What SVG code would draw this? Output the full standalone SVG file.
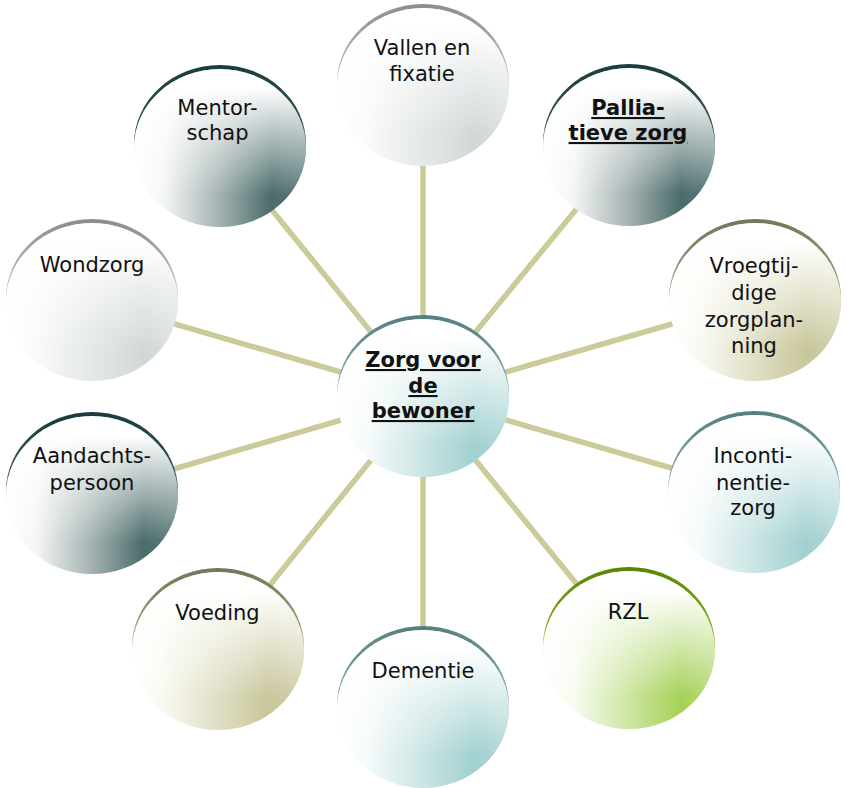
<svg xmlns="http://www.w3.org/2000/svg" width="847" height="788" viewBox="0 0 847 788">
<style>
.conn{stroke:#cbcb99;stroke-width:5.5;stroke-linecap:butt;fill:none}
.ov{fill:url(#ovl)}
.t{font-family:"DejaVu Sans","Verdana",sans-serif;font-size:21px;fill:#111;text-anchor:middle}
.b{font-weight:bold;text-decoration:underline}
</style>
<defs>
<linearGradient id="ovl" x1="0" y1="0" x2="0" y2="1">
<stop offset="0" stop-color="#fff" stop-opacity="1"/>
<stop offset="0.12" stop-color="#fff" stop-opacity="1"/>
<stop offset="0.8" stop-color="#fff" stop-opacity="0"/>
</linearGradient>
<linearGradient id="fDark" x1="0" y1="0" x2="1" y2="0">
<stop offset="0" stop-color="#ffffff"/><stop offset="0.18" stop-color="#f4f5f5"/><stop offset="0.5" stop-color="#a3b2b1"/><stop offset="0.8" stop-color="#4a6c6b"/><stop offset="1" stop-color="#5a7a79"/>
</linearGradient>
<linearGradient id="fGray" x1="0" y1="0" x2="1" y2="0">
<stop offset="0" stop-color="#ffffff"/><stop offset="0.18" stop-color="#f9fafa"/><stop offset="0.8" stop-color="#d1d7d7"/><stop offset="1" stop-color="#dbe0e0"/>
</linearGradient>
<linearGradient id="fTeal" x1="0" y1="0" x2="1" y2="0">
<stop offset="0" stop-color="#ffffff"/><stop offset="0.18" stop-color="#f6fafa"/><stop offset="0.8" stop-color="#a1d0d0"/><stop offset="1" stop-color="#b0d7d7"/>
</linearGradient>
<linearGradient id="fKhaki" x1="0" y1="0" x2="1" y2="0">
<stop offset="0" stop-color="#ffffff"/><stop offset="0.18" stop-color="#f9f9f2"/><stop offset="0.8" stop-color="#c8c69a"/><stop offset="1" stop-color="#d1cfaa"/>
</linearGradient>
<linearGradient id="fGreen" x1="0" y1="0" x2="1" y2="0">
<stop offset="0" stop-color="#ffffff"/><stop offset="0.18" stop-color="#f7fbf0"/><stop offset="0.8" stop-color="#a6d158"/><stop offset="1" stop-color="#b5d974"/>
</linearGradient>
<linearGradient id="rDark" x1="0" y1="0" x2="0" y2="1">
<stop offset="0" stop-color="#1b3c3c"/><stop offset="0.5" stop-color="#3d5c5c"/>
</linearGradient>
<linearGradient id="rGray" x1="0" y1="0" x2="0" y2="1">
<stop offset="0" stop-color="#888d8d"/><stop offset="0.5" stop-color="#c4c8c8"/>
</linearGradient>
<linearGradient id="rTeal" x1="0" y1="0" x2="0" y2="1">
<stop offset="0" stop-color="#557f7f"/><stop offset="0.5" stop-color="#8fb3b3"/>
</linearGradient>
<linearGradient id="rKhaki" x1="0" y1="0" x2="0" y2="1">
<stop offset="0" stop-color="#77745a"/><stop offset="0.5" stop-color="#aaa882"/>
</linearGradient>
<linearGradient id="rGreen" x1="0" y1="0" x2="0" y2="1">
<stop offset="0" stop-color="#5a8500"/><stop offset="0.5" stop-color="#8ab52c"/>
</linearGradient>
</defs>

<g id="connectors">
<line class="conn" x1="423" y1="396" x2="423" y2="85"/>
<line class="conn" x1="423" y1="396" x2="629" y2="145"/>
<line class="conn" x1="423" y1="396" x2="755" y2="300"/>
<line class="conn" x1="423" y1="396" x2="754" y2="492"/>
<line class="conn" x1="423" y1="396" x2="629" y2="648"/>
<line class="conn" x1="423" y1="396" x2="423" y2="707"/>
<line class="conn" x1="423" y1="396" x2="218" y2="649"/>
<line class="conn" x1="423" y1="396" x2="92" y2="493"/>
<line class="conn" x1="423" y1="396" x2="92" y2="300"/>
<line class="conn" x1="423" y1="396" x2="220" y2="146"/>
</g>

<g id="node-center">
<ellipse cx="423" cy="394" rx="86" ry="79" fill="url(#rTeal)"/>
<ellipse cx="423" cy="398" rx="86" ry="79" fill="url(#fTeal)"/>
<ellipse cx="423" cy="398" rx="86" ry="79" class="ov"/>
<text class="t b" x="423" y="367">Zorg voor</text>
<text class="t b" x="423" y="393">de</text>
<text class="t b" x="423" y="418">bewoner</text>
</g>

<g id="node-vallen">
<ellipse cx="423" cy="83" rx="86" ry="79" fill="url(#rGray)"/>
<ellipse cx="423" cy="87" rx="86" ry="79" fill="url(#fGray)"/>
<ellipse cx="423" cy="87" rx="86" ry="79" class="ov"/>
<text class="t" x="422" y="55">Vallen en</text>
<text class="t" x="422" y="81">fixatie</text>
</g>

<g id="node-palliatieve">
<ellipse cx="629" cy="143" rx="86" ry="79" fill="url(#rDark)"/>
<ellipse cx="629" cy="147" rx="86" ry="79" fill="url(#fDark)"/>
<ellipse cx="629" cy="147" rx="86" ry="79" class="ov"/>
<text class="t b" x="628" y="115">Pallia-</text>
<text class="t b" x="628" y="140">tieve zorg</text>
</g>

<g id="node-vroegtijdige">
<ellipse cx="755" cy="298" rx="86" ry="79" fill="url(#rKhaki)"/>
<ellipse cx="755" cy="302" rx="86" ry="79" fill="url(#fKhaki)"/>
<ellipse cx="755" cy="302" rx="86" ry="79" class="ov"/>
<text class="t" x="754" y="273">Vroegtij-</text>
<text class="t" x="754" y="300">dige</text>
<text class="t" x="754" y="327">zorgplan-</text>
<text class="t" x="754" y="353">ning</text>
</g>

<g id="node-incontinentie">
<ellipse cx="754" cy="490" rx="86" ry="79" fill="url(#rTeal)"/>
<ellipse cx="754" cy="494" rx="86" ry="79" fill="url(#fTeal)"/>
<ellipse cx="754" cy="494" rx="86" ry="79" class="ov"/>
<text class="t" x="753" y="463">Inconti-</text>
<text class="t" x="753" y="490">nentie-</text>
<text class="t" x="753" y="515">zorg</text>
</g>

<g id="node-rzl">
<ellipse cx="629" cy="646" rx="86" ry="79" fill="url(#rGreen)"/>
<ellipse cx="629" cy="650" rx="86" ry="79" fill="url(#fGreen)"/>
<ellipse cx="629" cy="650" rx="86" ry="79" class="ov"/>
<text class="t" x="628" y="619">RZL</text>
</g>

<g id="node-dementie">
<ellipse cx="423" cy="705" rx="86" ry="79" fill="url(#rTeal)"/>
<ellipse cx="423" cy="709" rx="86" ry="79" fill="url(#fTeal)"/>
<ellipse cx="423" cy="709" rx="86" ry="79" class="ov"/>
<text class="t" x="423" y="678">Dementie</text>
</g>

<g id="node-voeding">
<ellipse cx="218" cy="647" rx="86" ry="79" fill="url(#rKhaki)"/>
<ellipse cx="218" cy="651" rx="86" ry="79" fill="url(#fKhaki)"/>
<ellipse cx="218" cy="651" rx="86" ry="79" class="ov"/>
<text class="t" x="217.5" y="620">Voeding</text>
</g>

<g id="node-aandachtspersoon">
<ellipse cx="92" cy="491" rx="86" ry="79" fill="url(#rDark)"/>
<ellipse cx="92" cy="495" rx="86" ry="79" fill="url(#fDark)"/>
<ellipse cx="92" cy="495" rx="86" ry="79" class="ov"/>
<text class="t" x="92" y="463">Aandachts-</text>
<text class="t" x="92" y="490">persoon</text>
</g>

<g id="node-wondzorg">
<ellipse cx="92" cy="298" rx="86" ry="79" fill="url(#rGray)"/>
<ellipse cx="92" cy="302" rx="86" ry="79" fill="url(#fGray)"/>
<ellipse cx="92" cy="302" rx="86" ry="79" class="ov"/>
<text class="t" x="92" y="272">Wondzorg</text>
</g>

<g id="node-mentorschap">
<ellipse cx="220" cy="144" rx="86" ry="79" fill="url(#rDark)"/>
<ellipse cx="220" cy="148" rx="86" ry="79" fill="url(#fDark)"/>
<ellipse cx="220" cy="148" rx="86" ry="79" class="ov"/>
<text class="t" x="217.5" y="115">Mentor-</text>
<text class="t" x="217.5" y="140">schap</text>
</g>
</svg>
